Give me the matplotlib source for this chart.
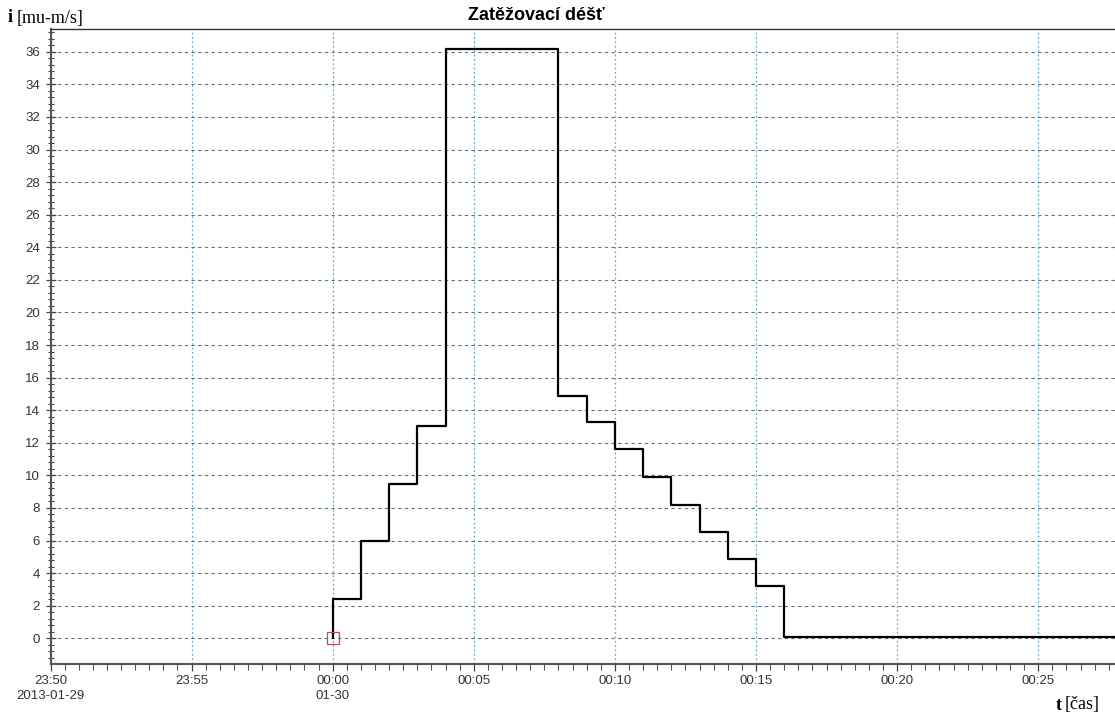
import datetime as dt
import matplotlib
matplotlib.use("Agg")
import matplotlib.pyplot as plt
import matplotlib.dates as mdates
from matplotlib.ticker import MultipleLocator

# ---- data ----
start = dt.datetime(2013, 1, 30, 0, 0)
step_minutes = [0, 0, 1, 2, 3, 4, 8, 9, 10, 11, 12, 13, 14, 15, 16, 29]
intensity = [0.0, 2.4, 5.95, 9.5, 13.05, 36.2, 14.9, 13.25, 11.6, 9.9, 8.2, 6.55, 4.85, 3.2, 0.05, 0.05]
tick_minutes = [-10, -5, 0, 5, 10, 15, 20, 25]
tick_labels = ["23:50\n2013-01-29", "23:55", "00:00\n01-30", "00:05", "00:10", "00:15", "00:20", "00:25"]
y_ticks = list(range(0, 37, 2))
title = "Zatěžovací déšť"

times = [start + dt.timedelta(minutes=m) for m in step_minutes]
tick_times = [start + dt.timedelta(minutes=m) for m in tick_minutes]

fig = plt.figure(figsize=(11.15, 7.16), dpi=100)
ax = fig.add_axes([50.5 / 1115, 52 / 716, 1 - 50.5 / 1115, (664 - 29) / 716])

# grid
ax.set_axisbelow(True)
ax.yaxis.grid(True, color="#5b7382", linestyle=(0, (3, 3)), linewidth=0.8)
ax.xaxis.grid(True, color="#6aa8c8", linestyle=(0, (1.5, 2)), linewidth=0.9)

ax.step(times, intensity, where="post", color="black", linewidth=1.6, zorder=3)
ax.plot([times[0]], [intensity[0]], marker="s", markersize=8, markerfacecolor="none",
        markeredgecolor="#b05060", markeredgewidth=0.9, zorder=4)

xmin = start + dt.timedelta(minutes=-10)
xmax = start + dt.timedelta(minutes=27.72)
ax.set_xlim(xmin, xmax)
ax.set_ylim(-1.58, 37.4)

ax.set_xticks(tick_times)
ax.set_xticklabels(tick_labels, fontsize=9.5, color="#333333", family="Liberation Sans",
                   linespacing=1.35)
ax.xaxis.set_minor_locator(mdates.SecondLocator(bysecond=[0, 30]))
ax.set_yticks(y_ticks)
ax.set_yticklabels([str(v) for v in y_ticks], fontsize=9.5, color="#333333", family="Liberation Sans")
ax.yaxis.set_minor_locator(MultipleLocator(0.4))

ax.tick_params(axis="y", which="major", direction="inout", length=7, width=0.9, color="#444444", pad=4)
ax.tick_params(axis="y", which="minor", direction="inout", length=5, width=0.8, color="#444444")
ax.tick_params(axis="x", which="major", direction="out", length=5, width=0.9, color="#444444", pad=3)
ax.tick_params(axis="x", which="minor", direction="out", length=4, width=0.8, color="#555555")

for s in ["left", "bottom"]:
    ax.spines[s].set_color("#555555")
    ax.spines[s].set_linewidth(1.5)
ax.spines["top"].set_color("#333333")
ax.spines["top"].set_linewidth(1.0)
ax.spines["right"].set_visible(False)

fig.text(536 / 1115, 1 - 16 / 716, title, ha="center", va="center", fontsize=13, fontweight="bold",
         family="Liberation Sans")

# axis labels
fig.text(8 / 1115, 1 - 18 / 716, "i", ha="left", va="center", fontsize=13, fontweight="bold",
         family="Liberation Serif")
fig.text(17 / 1115, 1 - 18 / 716, "[mu-m/s]", ha="left", va="center", fontsize=13,
         family="Liberation Serif")
fig.text(1056 / 1115, 1 - 705 / 716, "t", ha="left", va="center", fontsize=13, fontweight="bold",
         family="Liberation Serif")
fig.text(1065 / 1115, 1 - 705 / 716, "[čas]", ha="left", va="center", fontsize=13,
         family="Liberation Serif")

fig.savefig("out.png", dpi=100)
